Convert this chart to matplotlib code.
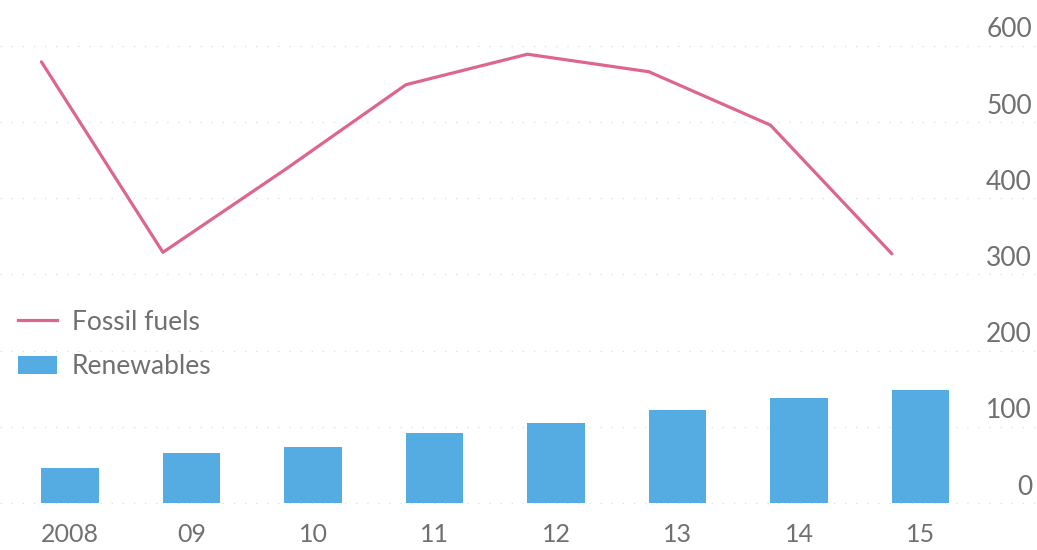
import matplotlib
matplotlib.use("Agg")
import matplotlib.pyplot as plt
import matplotlib.transforms as mtransforms
from matplotlib.lines import Line2D
from matplotlib.patches import Patch

# investment by year, $bn
years = ["2008", "09", "10", "11", "12", "13", "14", "15"]
fossil = [579, 329, 437, 549, 589, 566, 496, 327]
renewables = [46, 66, 74, 92, 105, 122, 138, 148]
yticks = [0, 100, 200, 300, 400, 500, 600]

PINK = "#dc6690"
BLUE = "#55ace2"
GREY = "#707070"

plt.rcParams["font.family"] = ["Lato", "DejaVu Sans"]

fig = plt.figure(figsize=(10.37, 5.5), dpi=100)
ax = fig.add_axes([0.0, 0.0716, 1.0, 0.8866])

x = list(range(len(years)))
bar_w = 0.47
ax.bar(x, renewables, width=bar_w, color=BLUE, zorder=2)
# line points sit on the left edge of each bar
ax.plot([i - bar_w / 2 for i in x], fossil, color=PINK, lw=2.3,
        solid_joinstyle="round", solid_capstyle="round", zorder=3)

ax.set_xlim(-0.576, 7.959)
ax.set_ylim(-10, 630)

for v in yticks:
    ax.axhline(v, color="#e2e2e2", lw=1.0, ls=(0, (1, 7)), zorder=1)

# right-hand scale labels sit just above their gridline
lab_tr = mtransforms.offset_copy(ax.get_yaxis_transform(), fig=fig,
                                 x=-5, y=16, units="dots")
for v in yticks:
    ax.text(1.0, v, str(v), transform=lab_tr, ha="right", va="center",
            fontsize=19, color=GREY)

ax.set_xticks(x)
ax.set_xticklabels(years, fontsize=18, color=GREY)
ax.tick_params(axis="x", length=0, pad=9)
ax.set_yticks([])
for s in ax.spines.values():
    s.set_visible(False)

handles = [Line2D([], [], color=PINK, lw=2.3),
           Patch(facecolor=BLUE, edgecolor="none")]
leg = ax.legend(handles, ["Fossil fuels", "Renewables"], loc="upper left",
                bbox_to_anchor=(0.017, 0.437), bbox_transform=fig.transFigure,
                frameon=False, fontsize=19, handlelength=1.5, handleheight=0.7,
                handletextpad=0.55, labelspacing=0.75, borderpad=0,
                borderaxespad=0)
for t in leg.get_texts():
    t.set_color(GREY)

fig.savefig("out.png", dpi=100, facecolor="white")
